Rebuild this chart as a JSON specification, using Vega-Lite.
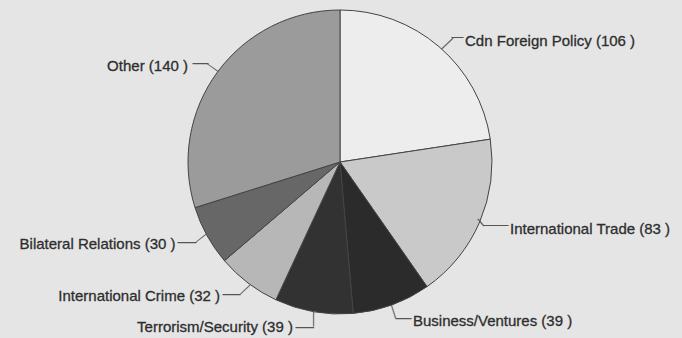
{
  "$schema": "https://vega.github.io/schema/vega-lite/v6.json",
  "width": 680,
  "height": 324,
  "autosize": "none",
  "padding": {"left": 0, "top": 0, "right": 2, "bottom": 14},
  "background": "#e5e5e5",
  "config": {"view": {"stroke": null}, "text": {"font": "Liberation Sans"}},
  "data": {
    "values": [
      {"category": "Cdn Foreign Policy", "count": 106, "i": 1, "label": "Cdn Foreign Policy (106 )"},
      {"category": "International Trade", "count": 83, "i": 2, "label": "International Trade (83 )"},
      {"category": "Business/Ventures", "count": 39, "i": 3, "label": "Business/Ventures (39 )"},
      {"category": "Terrorism/Security", "count": 39, "i": 4, "label": "Terrorism/Security (39 )"},
      {"category": "International Crime", "count": 32, "i": 5, "label": "International Crime (32 )"},
      {"category": "Bilateral Relations", "count": 30, "i": 6, "label": "Bilateral Relations (30 )"},
      {"category": "Other", "count": 140, "i": 7, "label": "Other (140 )"}
    ]
  },
  "encoding": {
    "theta": {"field": "count", "type": "quantitative", "stack": true},
    "order": {"field": "i", "type": "quantitative"},
    "detail": {"field": "category", "type": "nominal"}
  },
  "layer": [
    {
      "mark": {"type": "arc", "outerRadius": 152, "stroke": "#444444", "strokeWidth": 1},
      "encoding": {
        "color": {
          "field": "category", "type": "nominal", "legend": null,
          "scale": {
            "domain": ["Cdn Foreign Policy", "International Trade", "Business/Ventures", "Terrorism/Security", "International Crime", "Bilateral Relations", "Other"],
            "range": ["#ededed", "#c9c9c9", "#2b2b2b", "#323232", "#b7b7b7", "#676767", "#9b9b9b"]
          }
        }
      }
    },
    {"mark": {"type": "text", "radius": 178, "align": "left", "baseline": "alphabetic", "dx": 9, "dy": 18.5, "fontSize": 15, "color": "#2e2e2e", "stroke": "#2e2e2e", "strokeWidth": 0.3},
     "encoding": {"text": {"condition": {"test": "datum.i === 1", "field": "label"}, "value": ""}}},
    {"mark": {"type": "text", "radius": 178, "align": "center", "baseline": "middle", "angle": 316.3, "dx": -17.77, "dy": 4.78, "fontSize": 16, "color": "#555"},
     "encoding": {"text": {"condition": {"test": "datum.i === 1", "value": "—"}, "value": ""}}},
    {"mark": {"type": "text", "radius": 178, "align": "center", "baseline": "middle", "dx": 1.46, "dy": 10.48, "fontSize": 12, "color": "#555"},
     "encoding": {"text": {"condition": {"test": "datum.i === 1", "value": "—"}, "value": ""}}},

    {"mark": {"type": "text", "radius": 178, "align": "left", "baseline": "alphabetic", "dx": 6.4, "dy": 1.8, "fontSize": 15, "color": "#2e2e2e", "stroke": "#2e2e2e", "strokeWidth": 0.3},
     "encoding": {"text": {"condition": {"test": "datum.i === 2", "field": "label"}, "value": ""}}},
    {"mark": {"type": "text", "radius": 178, "align": "center", "baseline": "middle", "angle": 50.2, "dx": -21.95, "dy": 10.45, "fontSize": 9, "color": "#555", "stroke": "#555", "strokeWidth": 0.4},
     "encoding": {"text": {"condition": {"test": "datum.i === 2", "value": "—"}, "value": ""}}},
    {"mark": {"type": "text", "radius": 178, "align": "center", "baseline": "middle", "dx": -7.58, "dy": -7.18, "fontSize": 12.5, "color": "#555"},
     "encoding": {"text": {"condition": {"test": "datum.i === 2", "value": "——"}, "value": ""}}},

    {"mark": {"type": "text", "radius": 178, "align": "left", "baseline": "alphabetic", "dx": 12.2, "dy": -3.3, "fontSize": 15, "color": "#2e2e2e", "stroke": "#2e2e2e", "strokeWidth": 0.3},
     "encoding": {"text": {"condition": {"test": "datum.i === 3", "field": "label"}, "value": ""}}},
    {"mark": {"type": "text", "radius": 178, "align": "center", "baseline": "middle", "angle": 72.3, "dx": -18.78, "dy": 1.11, "fontSize": 14, "color": "#555"},
     "encoding": {"text": {"condition": {"test": "datum.i === 3", "value": "—"}, "value": ""}}},
    {"mark": {"type": "text", "radius": 178, "align": "center", "baseline": "middle", "dx": 2.73, "dy": -11.3, "fontSize": 16, "color": "#555"},
     "encoding": {"text": {"condition": {"test": "datum.i === 3", "value": "—"}, "value": ""}}},

    {"mark": {"type": "text", "radius": 178, "align": "right", "baseline": "alphabetic", "dx": -16.2, "dy": -5.3, "fontSize": 15, "color": "#2e2e2e", "stroke": "#2e2e2e", "strokeWidth": 0.3},
     "encoding": {"text": {"condition": {"test": "datum.i === 4", "field": "label"}, "value": ""}}},
    {"mark": {"type": "text", "radius": 178, "align": "center", "baseline": "middle", "angle": 90, "dx": -18.06, "dy": -4.35, "fontSize": 14.5, "color": "#555"},
     "encoding": {"text": {"condition": {"test": "datum.i === 4", "value": "—"}, "value": ""}}},
    {"mark": {"type": "text", "radius": 178, "align": "center", "baseline": "middle", "dx": -4.4, "dy": -11.31, "fontSize": 18.5, "color": "#555"},
     "encoding": {"text": {"condition": {"test": "datum.i === 4", "value": "—"}, "value": ""}}},

    {"mark": {"type": "text", "radius": 178, "align": "right", "baseline": "alphabetic", "dx": -12.3, "dy": -2.7, "fontSize": 15, "color": "#2e2e2e", "stroke": "#2e2e2e", "strokeWidth": 0.3},
     "encoding": {"text": {"condition": {"test": "datum.i === 5", "field": "label"}, "value": ""}}},
    {"mark": {"type": "text", "radius": 178, "align": "center", "baseline": "middle", "angle": 316.6, "dx": 18.81, "dy": -2.13, "fontSize": 13.4, "color": "#555"},
     "encoding": {"text": {"condition": {"test": "datum.i === 5", "value": "—"}, "value": ""}}},
    {"mark": {"type": "text", "radius": 178, "align": "center", "baseline": "middle", "dx": -0.79, "dy": -10.22, "fontSize": 18, "color": "#555"},
     "encoding": {"text": {"condition": {"test": "datum.i === 5", "value": "—"}, "value": ""}}},

    {"mark": {"type": "text", "radius": 178, "align": "right", "baseline": "alphabetic", "dx": -8.8, "dy": 0.3, "fontSize": 15, "color": "#2e2e2e", "stroke": "#2e2e2e", "strokeWidth": 0.3},
     "encoding": {"text": {"condition": {"test": "datum.i === 6", "field": "label"}, "value": ""}}},
    {"mark": {"type": "text", "radius": 178, "align": "center", "baseline": "middle", "angle": 322.1, "dx": 19.39, "dy": 1.51, "fontSize": 12.4, "color": "#555"},
     "encoding": {"text": {"condition": {"test": "datum.i === 6", "value": "—"}, "value": ""}}},
    {"mark": {"type": "text", "radius": 178, "align": "center", "baseline": "middle", "dx": 2.73, "dy": -7.22, "fontSize": 19, "color": "#555"},
     "encoding": {"text": {"condition": {"test": "datum.i === 6", "value": "—"}, "value": ""}}},

    {"mark": {"type": "text", "radius": 178, "align": "right", "baseline": "alphabetic", "dx": -8.5, "dy": 13.8, "fontSize": 15, "color": "#2e2e2e", "stroke": "#2e2e2e", "strokeWidth": 0.3},
     "encoding": {"text": {"condition": {"test": "datum.i === 7", "field": "label"}, "value": ""}}},
    {"mark": {"type": "text", "radius": 178, "align": "center", "baseline": "middle", "angle": 35, "dx": 19.44, "dy": -1.05, "fontSize": 13.2, "color": "#555"},
     "encoding": {"text": {"condition": {"test": "datum.i === 7", "value": "—"}, "value": ""}}},
    {"mark": {"type": "text", "radius": 178, "align": "center", "baseline": "middle", "dx": 4.02, "dy": 6.79, "fontSize": 16, "color": "#555"},
     "encoding": {"text": {"condition": {"test": "datum.i === 7", "value": "—"}, "value": ""}}}
  ]
}
